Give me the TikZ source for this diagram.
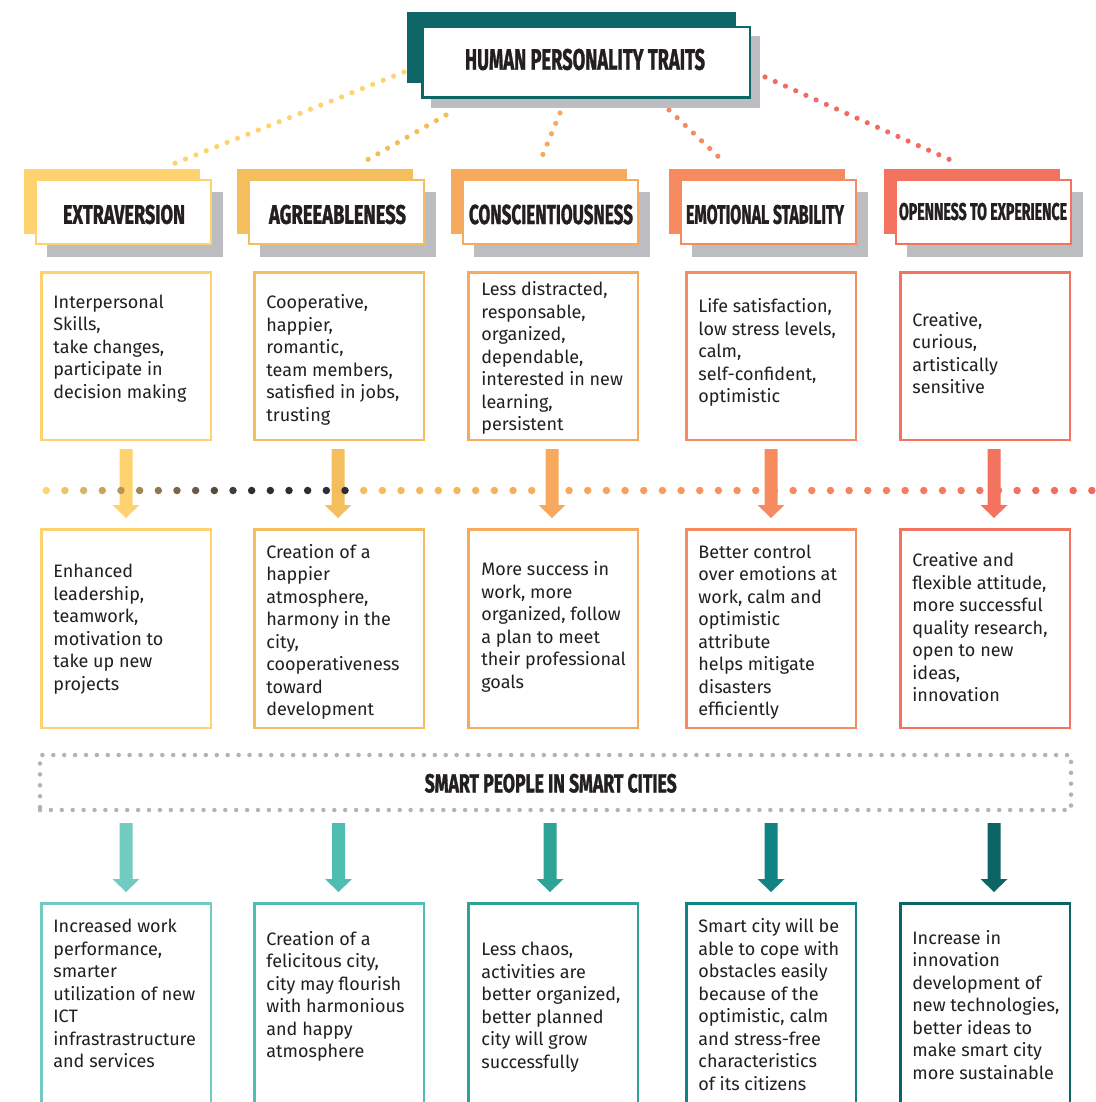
\documentclass[tikz,border=0pt]{standalone}
\usepackage{fontspec}
\usepackage{graphicx}
\setmainfont{Fira Sans}
\newfontfamily\hfont{Fira Sans}[BoldFeatures={FakeBold=1.6}]
\definecolor{teal0}{HTML}{0E6669}
\definecolor{shad}{HTML}{BCBDC0}
\definecolor{ya}{HTML}{FED36F}
\definecolor{yb}{HTML}{F3BE5B}
\definecolor{yc}{HTML}{F7AA5E}
\definecolor{yd}{HTML}{F68B5F}
\definecolor{ye}{HTML}{F3735F}
\definecolor{endred}{HTML}{F06A5F}
\definecolor{darkdot}{HTML}{2F2C33}
\definecolor{ga}{HTML}{72CBC0}
\definecolor{gb}{HTML}{4DBEB1}
\definecolor{gc}{HTML}{2CA395}
\definecolor{gd}{HTML}{118384}
\definecolor{ge}{HTML}{0D6464}
\definecolor{ink}{HTML}{231F20}
\definecolor{dotgray}{HTML}{B3B3B7}
\definecolor{la}{HTML}{FDD36E}
\definecolor{lb}{HTML}{F5BD5A}
\definecolor{lc}{HTML}{F7A95C}
\definecolor{ld}{HTML}{F78A60}
\definecolor{le}{HTML}{F16B64}
\newcommand\hd[3]{\resizebox{#1}{#2}{\hfont\bfseries #3}}
\newcommand\dnarrow[4]{\fill[#4] (#1-6.5,#2) -- (#1+6.5,#2) -- (#1+6.5,#3-13) -- (#1+13.5,#3-13) -- (#1,#3) -- (#1-13.5,#3-13) -- (#1-6.5,#3-13) -- cycle;}
\begin{document}
\begin{tikzpicture}[x=0.5pt,y=-0.5pt,
  bodytxt/.style={font=\fontsize{9}{11.25}\selectfont, text=ink, align=left, inner sep=0pt, anchor=west},
  hdtxt/.style={text=ink, inner sep=0pt},
  hbox/.style={draw=#1, fill=white, line width=1pt, minimum width=87.5pt, minimum height=32pt, inner sep=0pt},
  rbox/.style={draw=#1, fill=white, line width=1.25pt, minimum width=84.75pt, inner sep=0pt},
  topdots/.style={line width=2.6pt, line cap=round, dash pattern=on 0pt off 5.6pt}]
\useasboundingbox (0,0) rectangle (1096,1102);
\clip (0,0) rectangle (1096,1102);

% top dotted connectors
\coordinate (t1) at (404,72);  \coordinate (e1) at (173,164);
\coordinate (t2) at (446,115); \coordinate (e2) at (360,164);
\coordinate (t3) at (560,113); \coordinate (e3) at (539,164);
\coordinate (t4) at (669,110); \coordinate (e4) at (725,163);
\coordinate (t5) at (765,77);  \coordinate (e5) at (955,162);
\draw[topdots, la] (t1) -- (e1);
\draw[topdots, lb] (t2) -- (e2);
\draw[topdots, lc] (t3) -- (e3);
\draw[topdots, ld] (t4) -- (e4);
\draw[topdots, le] (t5) -- (e5);

% title
\fill[teal0] (407,12) rectangle (736,83);
\fill[shad] (431,36) rectangle (760,108);
\node[draw=teal0, fill=white, line width=1.25pt, minimum width=163.75pt, minimum height=35.25pt, inner sep=0pt] (title) at (586,62.5) {};
\node[hdtxt] (titletxt) at (585,59.5) {\hd{120pt}{10.5pt}{HUMAN PERSONALITY TRAITS}};

% headers
\fill[ya] (24,169) rectangle (200,234);
\fill[shad] (47,192) rectangle (223,257);
\node[hbox=ya] (h1) at (123.5,212) {};
\node[hdtxt] (h1t) at (124,214.5) {\hd{61pt}{9.5pt}{EXTRAVERSION}};

\fill[yb] (237,169) rectangle (413,234);
\fill[shad] (260,192) rectangle (436,257);
\node[hbox=yb] (h2) at (336.5,212) {};
\node[hdtxt] (h2t) at (337.5,214.5) {\hd{68.5pt}{9.5pt}{AGREEABLENESS}};

\fill[yc] (451,169) rectangle (627,234);
\fill[shad] (474,192) rectangle (650,257);
\node[hbox=yc] (h3) at (550.5,212) {};
\node[hdtxt] (h3t) at (551,214.5) {\hd{82pt}{9.75pt}{CONSCIENTIOUSNESS}};

\fill[yd] (669,169) rectangle (845,234);
\fill[shad] (692,192) rectangle (868,257);
\node[hbox=yd] (h4) at (768.5,212) {};
\node[hdtxt] (h4t) at (765,214.5) {\hd{79pt}{9.5pt}{EMOTIONAL STABILITY}};

\fill[ye] (884,169) rectangle (1060,234);
\fill[shad] (907,192) rectangle (1083,257);
\node[hbox=ye] (h5) at (983.5,212) {};
\node[hdtxt] (h5t) at (983,211.5) {\hd{84pt}{8.5pt}{OPENNESS TO EXPERIENCE}};

% row 1 boxes
\node[rbox=ya, minimum height=83.75pt] (a1) at (126,356) {};
\node[rbox=yb, minimum height=83.75pt] (a2) at (339.25,356) {};
\node[rbox=yc, minimum height=83.75pt] (a3) at (553.25,356) {};
\node[rbox=yd, minimum height=83.75pt] (a4) at (771,356) {};
\node[rbox=ye, minimum height=83.75pt] (a5) at (985.25,356) {};

% arrows row 1
\dnarrow{126}{449}{518}{ya}
\dnarrow{338}{449}{518}{yb}
\dnarrow{552}{449}{518}{yc}
\dnarrow{771}{449}{518}{yd}
\dnarrow{994}{449}{518}{ye}

% middle dotted line
\foreach \k in {0,...,56}{
  \pgfmathsetmacro{\xx}{46.3+18.67*\k}
  \ifnum\k<12
    \pgfmathsetmacro{\p}{100-\k*100/11}
    \colorlet{dc}{ya!\p!darkdot}
  \else\ifnum\k<17
    \colorlet{dc}{darkdot}
  \else\ifnum\k<27
    \pgfmathsetmacro{\p}{100-(\k-17)*10}
    \colorlet{dc}{yb!\p!yc}
  \else\ifnum\k<39
    \pgfmathsetmacro{\p}{100-(\k-27)*100/12}
    \colorlet{dc}{yc!\p!yd}
  \else\ifnum\k<51
    \pgfmathsetmacro{\p}{100-(\k-39)*100/12}
    \colorlet{dc}{yd!\p!ye}
  \else
    \pgfmathsetmacro{\p}{100-(\k-51)*20}
    \colorlet{dc}{ye!\p!endred}
  \fi\fi\fi\fi\fi
  \fill[dc] (\xx,490.5) circle[radius=1.875pt];
}

% row 2 boxes
\node[rbox=ya, minimum height=99.25pt] (b1) at (126,628.5) {};
\node[rbox=yb, minimum height=99.25pt] (b2) at (339.25,628.5) {};
\node[rbox=yc, minimum height=99.25pt] (b3) at (553.25,628.5) {};
\node[rbox=yd, minimum height=99.25pt] (b4) at (771,628.5) {};
\node[rbox=ye, minimum height=99.25pt] (b5) at (985.25,628.5) {};

% smart people box
\node[draw=dotgray, line width=2.25pt, line cap=round, dash pattern=on 0pt off 5.45pt, minimum width=515.5pt, minimum height=27.5pt, inner sep=0pt] (smart) at (555.5,782.5) {};
\node[hdtxt] (smartt) at (550.75,783.3) {\hd{126pt}{9.25pt}{SMART PEOPLE IN SMART CITIES}};

% arrows row 3
\dnarrow{126}{823}{892}{ga}
\dnarrow{338.5}{823}{892}{gb}
\dnarrow{550}{823}{892}{gc}
\dnarrow{771}{823}{892}{gd}
\dnarrow{994}{823}{892}{ge}

% row 3 boxes
\node[rbox=ga, minimum height=99.75pt] (c1) at (126,1003) {};
\node[rbox=gb, minimum height=99.75pt] (c2) at (339.25,1003) {};
\node[rbox=gc, minimum height=99.75pt] (c3) at (553.25,1003) {};
\node[rbox=gd, minimum height=99.75pt] (c4) at (771,1003) {};
\node[rbox=ge, minimum height=99.75pt] (c5) at (985.25,1003) {};

% texts row 1
\node[bodytxt] (a1t) at (53,348.5) {Interpersonal\\Skills,\\take changes,\\participate in\\decision making};
\node[bodytxt] (a2t) at (266,360) {Cooperative,\\happier,\\romantic,\\team members,\\satisfied in jobs,\\trusting};
\node[bodytxt] (a3t) at (481,358) {Less distracted,\\responsable,\\organized,\\dependable,\\interested in new\\learning,\\persistent};
\node[bodytxt] (a4t) at (698,352.5) {Life satisfaction,\\low stress levels,\\calm,\\self-confident,\\optimistic};
\node[bodytxt] (a5t) at (912,353) {Creative,\\curious,\\artistically\\sensitive};

% texts row 2
\node[bodytxt] (b1t) at (53,629) {Enhanced\\leadership,\\teamwork,\\motivation to\\take up new\\projects};
\node[bodytxt] (b2t) at (266,632) {Creation of a\\happier\\atmosphere,\\harmony in the\\city,\\cooperativeness\\toward\\development};
\node[bodytxt] (b3t) at (481,627) {More success in\\work, more\\organized, follow\\a plan to meet\\their professional\\goals};
\node[bodytxt] (b4t) at (698,632) {Better control\\over emotions at\\work, calm and\\optimistic\\attribute\\helps mitigate\\disasters\\efficiently};
\node[bodytxt] (b5t) at (912,627.5) {Creative and\\flexible attitude,\\more successful\\quality research,\\open to new\\ideas,\\innovation};

% texts row 3
\node[bodytxt] (c1t) at (53,993.5) {Increased work\\performance,\\smarter\\utilization of new\\ICT\\infrastrastructure\\and services};
\node[bodytxt] (c2t) at (266,996.5) {Creation of a\\felicitous city,\\city may flourish\\with harmonious\\and happy\\atmosphere};
\node[bodytxt] (c3t) at (481,1007) {Less chaos,\\activities are\\better organized,\\better planned\\city will grow\\successfully};
\node[bodytxt] (c4t) at (698,1004.5) {Smart city will be\\able to cope with\\obstacles easily\\because of the\\optimistic, calm\\and stress-free\\characteristics\\of its citizens};
\node[bodytxt] (c5t) at (912,1005) {Increase in\\innovation\\development of\\new technologies,\\better ideas to\\make smart city\\more sustainable};
\end{tikzpicture}
\end{document}
